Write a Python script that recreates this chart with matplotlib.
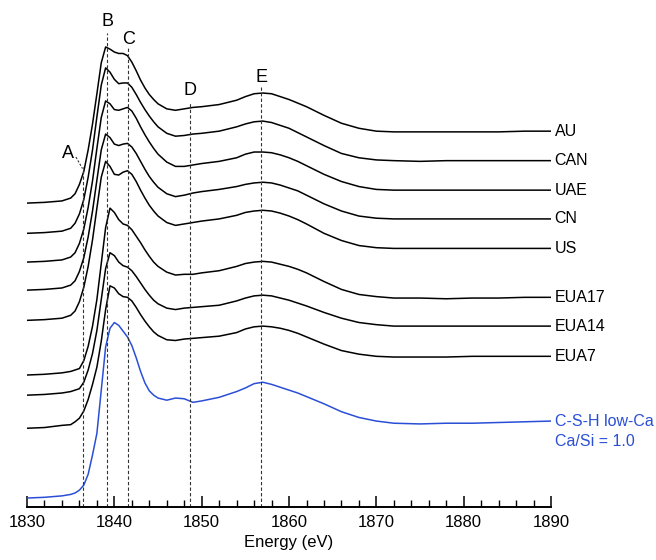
import matplotlib
matplotlib.use('Agg')
import matplotlib.pyplot as plt
from matplotlib.ticker import MultipleLocator

plt.rcParams['font.family'] = ['Liberation Sans', 'DejaVu Sans']

# energy grid (eV), shared by all spectra
energy = [1830, 1832, 1834, 1835, 1835.5, 1836, 1836.5, 1837, 1837.5, 1838, 1838.5,
          1839, 1839.5, 1840, 1840.5, 1841, 1841.5, 1842, 1842.5, 1843, 1843.5,
          1844, 1844.5, 1845, 1846, 1847, 1848, 1849, 1850, 1852, 1854,
          1855, 1856, 1857, 1858, 1859, 1860, 1861, 1862, 1864, 1866,
          1868, 1870, 1872, 1875, 1878, 1881, 1884, 1887, 1890]

# normalised Si K-edge XANES
au = [0.00, 0.01, 0.03, 0.07, 0.13, 0.26, 0.44, 0.74, 1.10, 1.52, 1.95,
      2.17, 2.14, 2.10, 2.08, 2.08, 2.05, 1.96, 1.84, 1.71, 1.60,
      1.51, 1.44, 1.38, 1.31, 1.29, 1.31, 1.33, 1.34, 1.37, 1.43,
      1.48, 1.52, 1.53, 1.52, 1.48, 1.44, 1.39, 1.34, 1.22, 1.11,
      1.04, 1.00, 0.99, 0.99, 0.99, 0.99, 0.99, 1.00, 1.00]
can = [0.00, 0.01, 0.03, 0.07, 0.14, 0.27, 0.47, 0.78, 1.16, 1.62, 2.06,
       2.30, 2.24, 2.14, 2.08, 2.09, 2.09, 2.03, 1.93, 1.82, 1.72,
       1.63, 1.55, 1.48, 1.39, 1.35, 1.36, 1.38, 1.39, 1.42, 1.48,
       1.52, 1.55, 1.56, 1.54, 1.50, 1.46, 1.40, 1.34, 1.22, 1.11,
       1.05, 1.02, 1.01, 1.00, 1.01, 1.01, 1.01, 1.01, 1.01]
uae = [0.00, 0.01, 0.03, 0.07, 0.13, 0.26, 0.46, 0.76, 1.13, 1.58, 2.01,
       2.24, 2.20, 2.12, 2.11, 2.13, 2.15, 2.10, 2.00, 1.88, 1.77,
       1.67, 1.58, 1.50, 1.39, 1.33, 1.33, 1.35, 1.37, 1.40, 1.45,
       1.50, 1.53, 1.53, 1.52, 1.49, 1.45, 1.40, 1.34, 1.22, 1.12,
       1.05, 1.01, 1.00, 1.00, 1.00, 1.00, 1.00, 1.00, 1.00]
cn = [0.00, 0.01, 0.03, 0.07, 0.13, 0.26, 0.45, 0.74, 1.10, 1.53, 1.95,
      2.17, 2.12, 2.03, 2.01, 2.03, 2.04, 1.99, 1.90, 1.79, 1.68,
      1.58, 1.50, 1.43, 1.34, 1.30, 1.32, 1.35, 1.37, 1.40, 1.44,
      1.47, 1.49, 1.50, 1.49, 1.46, 1.42, 1.38, 1.32, 1.20, 1.10,
      1.03, 1.00, 0.99, 0.99, 0.99, 0.99, 0.99, 0.99, 0.99]
us = [0.00, 0.01, 0.03, 0.07, 0.13, 0.26, 0.46, 0.75, 1.12, 1.56, 1.99,
      2.21, 2.14, 2.03, 2.02, 2.06, 2.08, 2.03, 1.93, 1.81, 1.70,
      1.60, 1.52, 1.45, 1.36, 1.32, 1.34, 1.36, 1.38, 1.41, 1.46,
      1.50, 1.52, 1.53, 1.52, 1.49, 1.45, 1.40, 1.34, 1.21, 1.11,
      1.04, 1.01, 1.00, 1.00, 1.00, 1.00, 1.00, 1.00, 1.00]
eua17 = [0.00, 0.01, 0.03, 0.05, 0.07, 0.09, 0.20, 0.40, 0.68, 1.05, 1.55,
         2.05, 2.32, 2.26, 2.16, 2.10, 2.08, 2.02, 1.93, 1.84, 1.74,
         1.65, 1.57, 1.51, 1.43, 1.39, 1.40, 1.40, 1.42, 1.45, 1.51,
         1.55, 1.57, 1.58, 1.57, 1.54, 1.51, 1.47, 1.42, 1.30, 1.19,
         1.12, 1.09, 1.07, 1.07, 1.06, 1.07, 1.07, 1.08, 1.08]
eua14 = [0.00, 0.01, 0.03, 0.05, 0.07, 0.09, 0.18, 0.35, 0.58, 0.90, 1.33,
         1.76, 1.98, 1.94, 1.85, 1.80, 1.78, 1.73, 1.65, 1.56, 1.47,
         1.39, 1.32, 1.27, 1.21, 1.19, 1.21, 1.22, 1.23, 1.25, 1.31,
         1.35, 1.38, 1.39, 1.38, 1.35, 1.32, 1.28, 1.24, 1.15, 1.07,
         1.01, 0.98, 0.96, 0.96, 0.96, 0.96, 0.96, 0.96, 0.96]
eua7 = [0.00, 0.01, 0.04, 0.05, 0.09, 0.14, 0.24, 0.40, 0.61, 0.85, 1.21,
        1.65, 1.98, 1.95, 1.87, 1.83, 1.82, 1.77, 1.68, 1.58, 1.49,
        1.41, 1.34, 1.29, 1.23, 1.22, 1.24, 1.25, 1.26, 1.28, 1.33,
        1.38, 1.41, 1.42, 1.41, 1.39, 1.36, 1.32, 1.27, 1.17, 1.08,
        1.03, 1.00, 0.99, 0.99, 0.99, 1.00, 1.00, 1.00, 1.00]
csh = [0.00, 0.01, 0.03, 0.05, 0.07, 0.11, 0.18, 0.33, 0.60, 0.90, 1.50,
       2.10, 2.36, 2.44, 2.40, 2.32, 2.24, 2.12, 1.95, 1.76, 1.60,
       1.49, 1.43, 1.39, 1.36, 1.39, 1.38, 1.33, 1.35, 1.40, 1.48,
       1.53, 1.59, 1.61, 1.58, 1.54, 1.50, 1.46, 1.41, 1.31, 1.20,
       1.12, 1.07, 1.04, 1.03, 1.04, 1.04, 1.05, 1.06, 1.07]

names = ['AU', 'CAN', 'UAE', 'CN', 'US', 'EUA17', 'EUA14', 'EUA7']
spectra = [au, can, uae, cn, us, eua17, eua14, eua7]
offsets = [4.10, 3.68, 3.28, 2.89, 2.47, 1.71, 1.43, 0.97]

# feature positions A-E (eV)
features = ['A', 'B', 'C', 'D', 'E']
feature_e = [1836.4, 1839.15, 1841.6, 1848.7, 1856.8]

blue = '#2a4fd6'

fig = plt.figure(figsize=(6.56, 5.6), dpi=100)
ax = fig.add_axes([0.0412, 0.0946, 0.7988, 0.887])

for name, spec, off in zip(names, spectra, offsets):
    y = [v + off for v in spec]
    ax.plot(energy, y, color='black', lw=1.1)
    ax.text(energy[-1] + 0.4, y[-1], name, fontsize=11.5, va='center', ha='left')

ax.plot(energy, csh, color=blue, lw=1.1)
ax.text(energy[-1] + 0.4, csh[-1], 'C-S-H low-Ca', fontsize=11.5, color=blue,
        va='center', ha='left')
ax.text(energy[-1] + 0.4, csh[-1] - 0.28, 'Ca/Si = 1.0', fontsize=11.5, color=blue,
        va='center', ha='left')

# dashed markers and letters
line_tops = [4.60, 6.47, 6.25, 5.50, 5.74]
label_pos = [(1834.7, 4.79), (1839.2, 6.63), (1841.6, 6.38), (1848.7, 5.66), (1856.8, 5.85)]
for f, e, top, (lx, ly) in zip(features, feature_e, line_tops, label_pos):
    ax.plot([e, e], [-0.125, top], color='#333333', lw=0.8, ls=(0, (3, 2)))
    ax.text(lx, ly, f, fontsize=13, ha='center', va='center')
ax.plot([1835.6, 1836.35], [4.74, 4.58], color='#333333', lw=0.8, ls=(0, (2, 1.5)))

ax.set_xlim(1830, 1890)
ax.set_ylim(-0.125, 6.78)
ax.xaxis.set_major_locator(MultipleLocator(10))
ax.xaxis.set_minor_locator(MultipleLocator(2))
ax.tick_params(axis='x', which='major', direction='in', length=8, width=1.1,
               labelsize=12, pad=6)
ax.tick_params(axis='x', which='minor', direction='in', length=5, width=1.0)
ax.set_yticks([])
for s in ['left', 'right', 'top']:
    ax.spines[s].set_visible(False)
ax.spines['bottom'].set_linewidth(1.4)
ax.set_xlabel('Energy (eV)', fontsize=12, labelpad=3)

fig.savefig('out.png', dpi=100)
